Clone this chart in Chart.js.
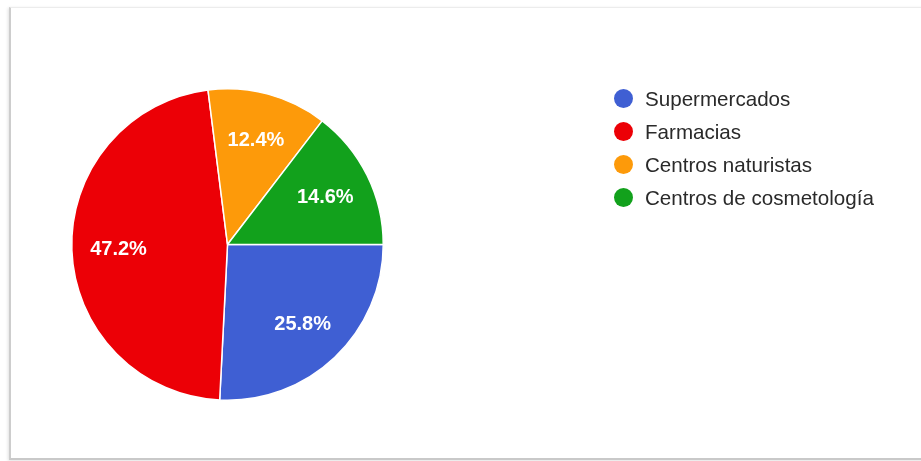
<!DOCTYPE html>
<html>
<head>
<meta charset="utf-8">
<script src="https://cdn.jsdelivr.net/npm/chart.js@4/dist/chart.umd.min.js"></script>
<style>
  html, body { margin: 0; padding: 0; background: #fff; }
  body { width: 921px; height: 461px; position: relative; overflow: hidden; font-family: "Liberation Sans", Arial, sans-serif; }
  .frame {
    position: absolute; left: 9px; top: 7px; width: 930px; height: 450px;
    border-left: 2px solid #cdcdcd; border-bottom: 2px solid #c9c9c9; border-top: 1px solid #ececec;
    box-shadow: -1px 1px 3px rgba(0,0,0,0.12);
  }
  #chart { position: absolute; left: 0; top: 0; }
  .legend { position: absolute; left: 614px; top: 82px; list-style: none; margin: 0; padding: 0; }
  .legend li { height: 33px; display: flex; align-items: center; font-size: 20.6px; color: #2a2a2a; }
  .legend .dot { width: 19px; height: 19px; border-radius: 50%; margin-right: 12px; flex: none; }
</style>
</head>
<body>
<div class="frame"></div>
<canvas id="chart" width="921" height="461"></canvas>
<ul class="legend" id="legend"></ul>
<script>
// Categories, shares (%) and slice colours
const categories = ['Supermercados', 'Farmacias', 'Centros naturistas', 'Centros de cosmetología'];
const shares = [25.8, 47.2, 12.4, 14.6];
const colors = ['#3f5fd3', '#ec0006', '#fd9a0a', '#12a11c'];

// White percentage text inside each slice
const sliceLabels = {
  id: 'sliceLabels',
  afterDatasetsDraw(chart) {
    const ctx = chart.ctx;
    const meta = chart.getDatasetMeta(0);
    ctx.save();
    ctx.fillStyle = '#ffffff';
    ctx.font = 'bold 20px "Liberation Sans", Arial, sans-serif';
    ctx.textAlign = 'center';
    ctx.textBaseline = 'middle';
    meta.data.forEach((arc, i) => {
      const mid = (arc.startAngle + arc.endAngle) / 2;
      const r = arc.outerRadius * 0.7;
      ctx.fillText(shares[i].toFixed(1) + '%', arc.x + Math.cos(mid) * r, arc.y + Math.sin(mid) * r + 1);
    });
    ctx.restore();
  }
};

new Chart(document.getElementById('chart'), {
  type: 'pie',
  data: {
    labels: categories,
    datasets: [{
      data: shares,
      backgroundColor: colors,
      borderColor: '#ffffff',
      borderWidth: 1.5
    }]
  },
  options: {
    responsive: false,
    animation: false,
    rotation: 90,
    layout: { padding: { top: 87, bottom: 59, left: 71, right: 537 } },
    plugins: {
      legend: { display: false },
      tooltip: { enabled: false }
    }
  },
  plugins: [sliceLabels]
});

// Legend list built from the same arrays
const legend = document.getElementById('legend');
categories.forEach((name, i) => {
  const li = document.createElement('li');
  const dot = document.createElement('span');
  dot.className = 'dot';
  dot.style.background = colors[i];
  li.appendChild(dot);
  li.appendChild(document.createTextNode(name));
  legend.appendChild(li);
});
</script>
</body>
</html>
